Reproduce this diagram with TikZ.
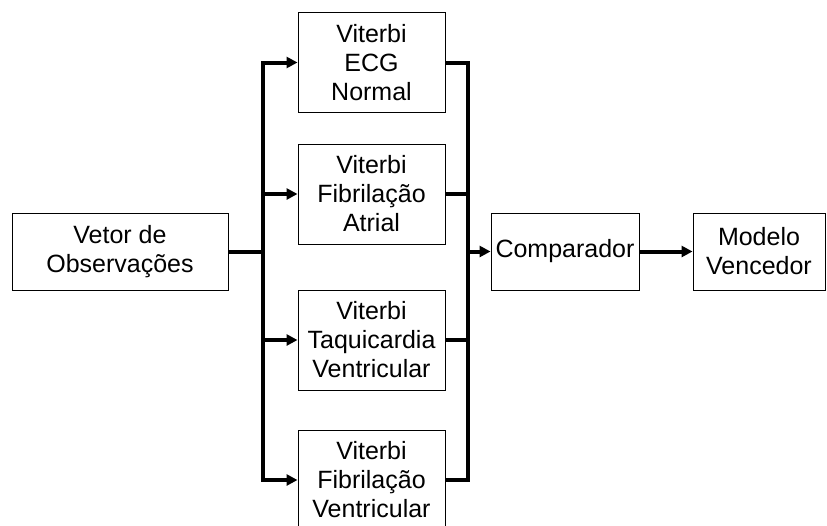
\documentclass[tikz,border=0pt]{standalone}
\usepackage{fontspec}
\setmainfont{Liberation Sans}
\usetikzlibrary{arrows.meta,positioning,calc}

\begin{document}
\begin{tikzpicture}[x=1pt,y=-1pt,every node/.style={font=\fontsize{25}{29}\selectfont,align=center},
  blk/.style={draw=black,line width=1pt,fill=white,inner sep=0pt},
  viterbi/.style={blk,minimum width=147pt,minimum height=100pt},
  flat/.style={blk,minimum height=77pt},
  bus/.style={line width=4pt,line join=miter},
  busarrow/.style={bus,-{Triangle[length=11pt,width=11pt]}}]
\useasboundingbox[clip] (0,0) rectangle (827,525);
\node[flat,minimum width=216pt] (vetor) at (120,251.5) {Vetor de\\Observações};
\node[viterbi] (ecg) at (371.5,62.5) {Viterbi\\ECG\\Normal};
\node[viterbi] (fa) at (371.5,194) {Viterbi\\Fibrilação\\Atrial};
\node[viterbi] (tv) at (371.5,340) {Viterbi\\Taquicardia\\Ventricular};
\node[viterbi] (fv) at (371.5,480) {Viterbi\\Fibrilação\\Ventricular};
\node[flat,minimum width=148pt] (comp) at (565,251.5) {Comparador};
\node[flat,minimum width=132pt] (vencedor) at (759,251.5) {Modelo\\Vencedor};
\coordinate (busL) at (263,251.5);
\coordinate (busR) at (468,251.5);
% left bus
\draw[bus] (vetor) -- (busL);
\draw[busarrow] (busL) |- (ecg);
\draw[busarrow] (busL) |- (fv);
\draw[busarrow] (busL |- fa) -- (fa);
\draw[busarrow] (busL |- tv) -- (tv);
% right bus
\draw[bus] (ecg) -| (busR) |- (fv);
\draw[bus] (fa) -- (fa -| busR);
\draw[bus] (tv) -- (tv -| busR);
\draw[busarrow] (busR) -- (comp);
\draw[busarrow] (comp) -- (vencedor);
\end{tikzpicture}
\end{document}
